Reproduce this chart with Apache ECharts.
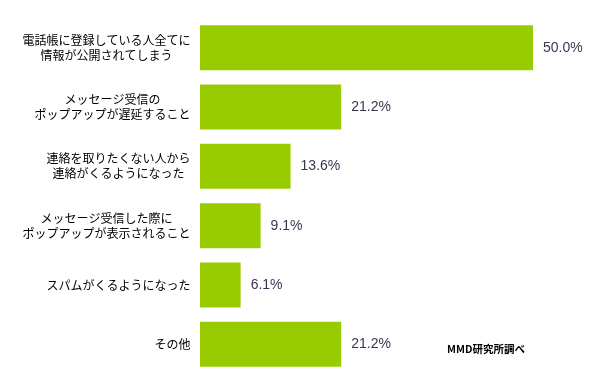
<!DOCTYPE html>
<html><head><meta charset="utf-8">
<script src="https://cdn.jsdelivr.net/npm/echarts@6/dist/echarts.min.js"></script>
<style>html,body{margin:0;padding:0;background:#fff}#c{width:604px;height:390px}</style>
</head><body><div id="c"></div>
<script>
const categories = [
  "電話帳に登録している人全てに\n情報が公開されてしまう",
  "メッセージ受信の\nポップアップが遅延すること",
  "連絡を取りたくない人から\n連絡がくるようになった",
  "メッセージ受信した際に\nポップアップが表示されること",
  "スパムがくるようになった",
  "その他"
];
const values = [50.0, 21.2, 13.6, 9.1, 6.1, 21.2];
const sourceNote = "MMD研究所調べ";

const labelFont = '12px "Noto Sans CJK JP"';
const cv = document.createElement('canvas').getContext('2d');
cv.font = labelFont;
const rich = {};
categories.forEach((c, i) => {
  const w = Math.max(...c.split('\n').map(s => cv.measureText(s).width));
  rich['l' + i] = { width: Math.ceil(w), align: 'center', fontSize: 12, lineHeight: 15,
    fontFamily: '"Noto Sans CJK JP"', color: '#000' };
});

const chart = echarts.init(document.getElementById('c'));
chart.setOption({
  animation: false,
  grid: { left: 200, right: 71, top: 18, bottom: 16 },
  xAxis: { type: 'value', min: 0, max: 50, show: false },
  yAxis: {
    type: 'category', data: categories, inverse: true,
    axisLine: { show: false }, axisTick: { show: false },
    axisLabel: {
      margin: 9, align: 'right',
      formatter: (v, i) => v.split('\n').map(s => '{l' + i + '|' + s + '}').join('\n'),
      rich: rich
    }
  },
  series: [{
    type: 'bar', data: values, barWidth: 45,
    itemStyle: { color: '#99cc00' },
    label: {
      show: true, position: 'right', distance: 10,
      formatter: p => p.value.toFixed(1) + '%',
      fontFamily: 'Arial, "Liberation Sans"', fontSize: 14, color: '#3d3452'
    }
  }],
  graphic: [{
    type: 'text', left: 447, top: 344,
    style: { text: sourceNote, font: 'bold 10.5px "Noto Sans CJK JP"', fill: '#000' }
  }]
});
</script></body></html>
